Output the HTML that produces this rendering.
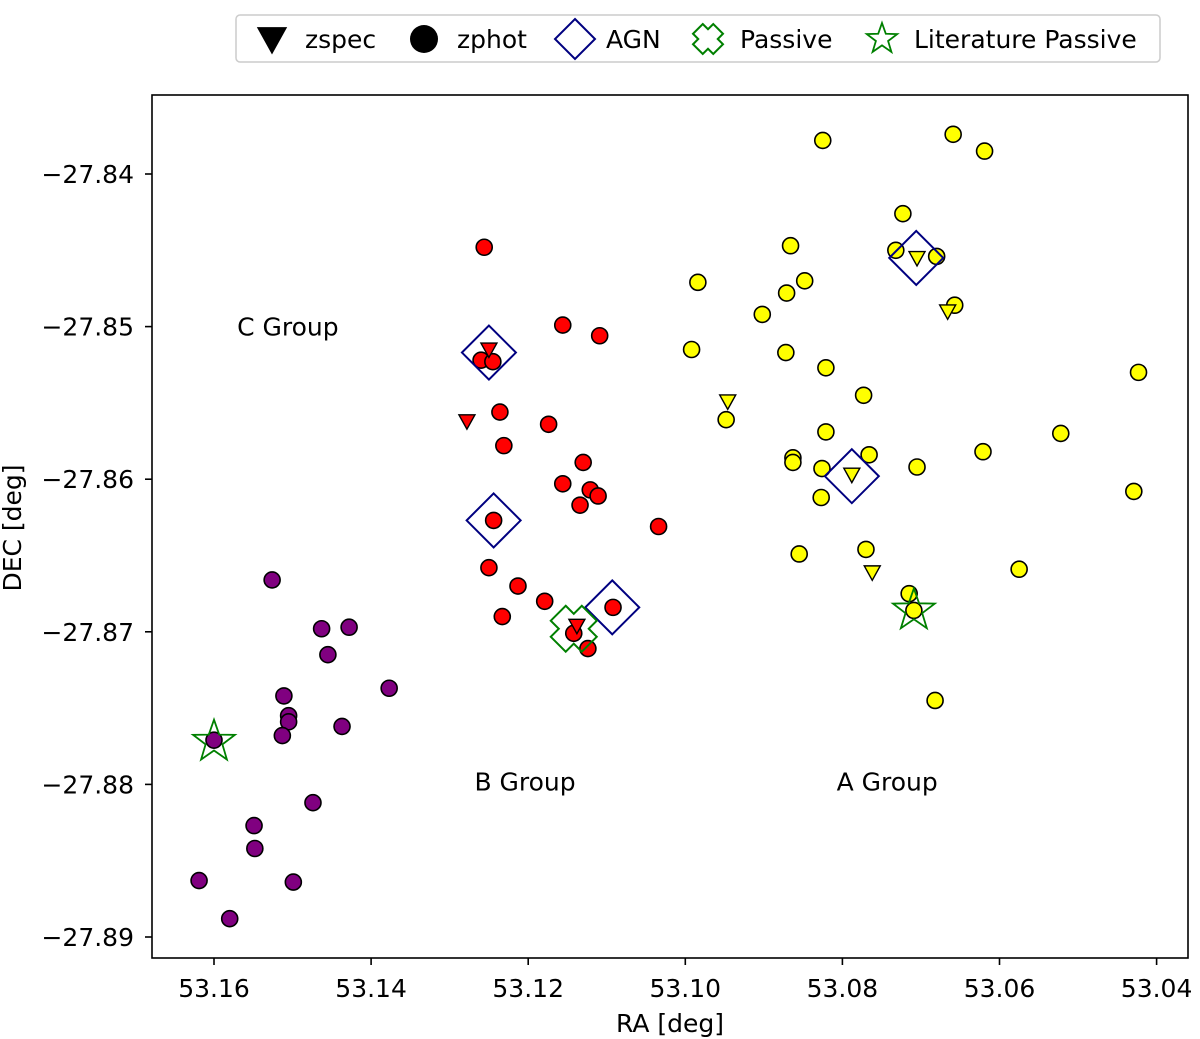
<!DOCTYPE html>
<html><head><meta charset="utf-8"><style>
body{margin:0;background:#fff;}
svg{display:block;font-family:"DejaVu Sans","Liberation Sans",sans-serif;}
</style></head><body>
<svg id="chart" width="1200" height="1039" viewBox="0 0 1200 1039" xmlns="http://www.w3.org/2000/svg">
<rect x="152" y="95" width="1036" height="863" fill="#fff" stroke="#000" stroke-width="1.6"/>
<g id="ticks"></g>
<g id="marks"></g>
<text x="670" y="1032" font-size="25" text-anchor="middle">RA [deg]</text>
<text transform="translate(21,528) rotate(-90)" font-size="25" text-anchor="middle">DEC [deg]</text>
<g id="legend">
<rect x="236" y="15" width="924" height="47" rx="4" fill="#fff" stroke="#ccc" stroke-width="1.5"/>
</g>
</svg>
<script>
const raTicks=[53.16,53.14,53.12,53.10,53.08,53.06,53.04];
const raTickLabels=["53.16","53.14","53.12","53.10","53.08","53.06","53.04"];
const decTicks=[-27.84,-27.85,-27.86,-27.87,-27.88,-27.89];
const decTickLabels=["\u221227.84","\u221227.85","\u221227.86","\u221227.87","\u221227.88","\u221227.89"];

const purpleRA=[53.1526,53.1463,53.1428,53.1455,53.1377,53.1511,53.1505,53.1505,53.1513,53.1437,53.16,53.1474,53.1549,53.1548,53.1619,53.1499,53.158];
const purpleDEC=[-27.8666,-27.8698,-27.8697,-27.8715,-27.8737,-27.8742,-27.8755,-27.8759,-27.8768,-27.8762,-27.8771,-27.8812,-27.8827,-27.8842,-27.8863,-27.8864,-27.8888];
const redRA=[53.1256,53.1156,53.1109,53.126,53.1245,53.1236,53.1231,53.1174,53.113,53.1156,53.1121,53.1111,53.1134,53.1244,53.1034,53.125,53.1213,53.1233,53.1179,53.1092,53.1142,53.1124];
const redDEC=[-27.8448,-27.8499,-27.8506,-27.8522,-27.8523,-27.8556,-27.8578,-27.8564,-27.8589,-27.8603,-27.8607,-27.8611,-27.8617,-27.8627,-27.8631,-27.8658,-27.867,-27.869,-27.868,-27.8684,-27.8701,-27.8711];
const redSpecRA=[53.1278,53.125,53.1138];
const redSpecDEC=[-27.8562,-27.8515,-27.8696];
const yellowRA=[53.0825,53.0659,53.0619,53.0723,53.0866,53.0732,53.068,53.0984,53.0848,53.0871,53.0657,53.0902,53.0992,53.0872,53.0821,53.0773,53.0948,53.0821,53.0423,53.0522,53.0621,53.0863,53.0863,53.0766,53.0826,53.0705,53.0827,53.0429,53.0855,53.077,53.0575,53.0715,53.0709,53.0682];
const yellowDEC=[-27.8378,-27.8374,-27.8385,-27.8426,-27.8447,-27.845,-27.8454,-27.8471,-27.847,-27.8478,-27.8486,-27.8492,-27.8515,-27.8517,-27.8527,-27.8545,-27.8561,-27.8569,-27.853,-27.857,-27.8582,-27.8586,-27.8589,-27.8584,-27.8593,-27.8592,-27.8612,-27.8608,-27.8649,-27.8646,-27.8659,-27.8675,-27.8686,-27.8745];
const yellowSpecRA=[53.0705,53.0666,53.0946,53.0788,53.0762];
const yellowSpecDEC=[-27.8455,-27.849,-27.8549,-27.8597,-27.8661];
const agnRA=[53.125,53.1244,53.1093,53.0788,53.0706];
const agnDEC=[-27.8517,-27.8627,-27.8684,-27.8598,-27.8455];
const passiveRA=[53.1142];
const passiveDEC=[-27.8698];
const litRA=[53.16,53.0709];
const litDEC=[-27.8772,-27.8686];
const groupNames=["C Group","B Group","A Group"];
const groupRA=[53.1506,53.1204,53.0743];
const groupDEC=[-27.8500,-27.8798,-27.8798];

const NS="http://www.w3.org/2000/svg";
function xs(ra){return 214+(53.16-ra)*7855;}
function ys(d){return 174+(-27.84-d)*15260;}
function mk(tag,attrs,parent){const e=document.createElementNS(NS,tag);for(const k in attrs)e.setAttribute(k,attrs[k]);parent.appendChild(e);return e;}
const T=document.getElementById('ticks'),M=document.getElementById('marks'),L=document.getElementById('legend');

raTicks.forEach((v,i)=>{const x=xs(v);
 const l=mk('line',{x1:x,x2:x,y1:958,y2:965,stroke:'#000','stroke-width':1.6},T);
 
 
 const t=mk('text',{x:x,y:997,'font-size':25,'text-anchor':'middle'},T);t.textContent=raTickLabels[i];
 
 
});
decTicks.forEach((v,i)=>{const y=ys(v);
 const l=mk('line',{x1:145,x2:152,y1:y,y2:y,stroke:'#000','stroke-width':1.6},T);
 
 
 const t=mk('text',{x:134,y:y+9,'font-size':25,'text-anchor':'end'},T);t.textContent=decTickLabels[i];
 
 
});

function circle(x,y,fill,p){return mk('circle',{cx:x,cy:y,r:8,fill:fill,stroke:'#000','stroke-width':1.6},p);}
function tri(x,y,fill,p,s){s=s||8;return mk('polygon',{points:`${x-s},${y-s*0.8} ${x+s},${y-s*0.8} ${x},${y+s}`,fill:fill,stroke:'#000','stroke-width':1.4},p);}
function diamond(x,y,s,p){return mk('polygon',{points:`${x},${y-s} ${x+s},${y} ${x},${y+s} ${x-s},${y}`,fill:'none',stroke:'#000080','stroke-width':2},p);}
function cross(x,y,s,p){const a=s*0.35;const pts=[[-a,-s],[0,-s+a],[a,-s],[s,-a],[s-a,0],[s,a],[a,s],[0,s-a],[-a,s],[-s,a],[-s+a,0],[-s,-a]];
 return mk('polygon',{points:pts.map(q=>(x+q[0])+','+(y+q[1])).join(' '),fill:'none',stroke:'green','stroke-width':2},p);}
function star(x,y,R,p){let pts=[];for(let i=0;i<10;i++){const r=i%2?R*0.4:R;const a=-Math.PI/2+i*Math.PI/5;pts.push((x+r*Math.cos(a)).toFixed(1)+','+(y+r*Math.sin(a)).toFixed(1));}
 return mk('polygon',{points:pts.join(' '),fill:'none',stroke:'green','stroke-width':1.8},p);}

purpleRA.forEach((r,i)=>{const e=circle(xs(r),ys(purpleDEC[i]),'purple',M);
 
 });
redRA.forEach((r,i)=>{const e=circle(xs(r),ys(redDEC[i]),'red',M);
 
 });
redSpecRA.forEach((r,i)=>{const e=tri(xs(r),ys(redSpecDEC[i]),'red',M);
 
 });
yellowRA.forEach((r,i)=>{const e=circle(xs(r),ys(yellowDEC[i]),'yellow',M);
 
 });
yellowSpecRA.forEach((r,i)=>{const e=tri(xs(r),ys(yellowSpecDEC[i]),'yellow',M);
 
 });
agnRA.forEach((r,i)=>{const e=diamond(xs(r),ys(agnDEC[i]),27,M);
 
 });
passiveRA.forEach((r,i)=>{const e=cross(xs(r),ys(passiveDEC[i]),23,M);
 
 });
litRA.forEach((r,i)=>{const e=star(xs(r),ys(litDEC[i]),22,M);
 
 });
groupNames.forEach((g,i)=>{const t=mk('text',{x:xs(groupRA[i]),y:ys(groupDEC[i])+9,'font-size':25,'text-anchor':'middle'},M);t.textContent=g;
 
 });

let e;
e=tri(272,39,'#000',L,14);

e=mk('circle',{cx:424,cy:39,r:14,fill:'#000'},L);

e=diamond(575,39,20,L);

e=cross(708,39,15,L);

e=star(882,39,16,L);

const labs=[["zspec",305],["zphot",457],["AGN",606],["Passive",740],["Literature Passive",914]];
labs.forEach(l=>{const t=mk('text',{x:l[1],y:48,'font-size':25},L);t.textContent=l[0];
 
 });
</script>
</body></html>
